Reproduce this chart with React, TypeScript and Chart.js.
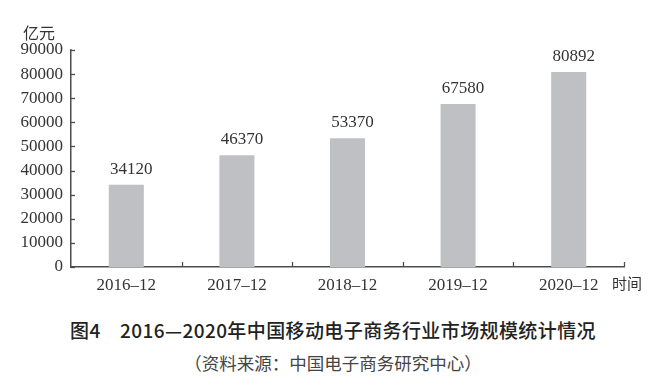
import React, { useEffect, useRef } from "react";
import { Chart, registerables } from "chart.js";

Chart.register(...registerables);

const categories: string[] = ["2016–12", "2017–12", "2018–12", "2019–12", "2020–12"];
const values: number[] = [34120, 46370, 53370, 67580, 80892];
const yMin = 0;
const yMax = 90000;
const yStep = 10000;

const titleText = "图4　2016—2020年中国移动电子商务行业市场规模统计情况";
const sourceText = "（资料来源：中国电子商务研究中心）";
const yUnit = "亿元";
const xUnit = "时间";

const serif = "'Liberation Serif', 'DejaVu Serif', serif";
const cjk = "'Noto Sans CJK SC', 'Noto Sans', sans-serif";
const textColor = "#333333";
const axisColor = "#4d4d4d";
const barColor = "#bfc0c3";

const tickMarksPlugin = {
  id: "tickMarks",
  afterDraw(chart: any) {
    const { ctx } = chart;
    const xs = chart.scales.x;
    const ys = chart.scales.y;
    ctx.save();
    ctx.strokeStyle = axisColor;
    ctx.lineWidth = 1.3;
    ys.ticks.forEach((t: any) => {
      const py = Math.round(ys.getPixelForValue(t.value)) + 0.5;
      ctx.beginPath();
      ctx.moveTo(xs.left, py);
      ctx.lineTo(xs.left + 4, py);
      ctx.stroke();
    });
    const n = categories.length;
    for (let i = 1; i <= n; i++) {
      const px = Math.round(xs.left + ((xs.right - xs.left) * i) / n) + 0.5;
      ctx.beginPath();
      ctx.moveTo(px, ys.bottom);
      ctx.lineTo(px, ys.bottom - 5);
      ctx.stroke();
    }
    ctx.restore();
  },
};

const valueLabelsPlugin = {
  id: "valueLabels",
  afterDatasetsDraw(chart: any) {
    const { ctx } = chart;
    const meta = chart.getDatasetMeta(0);
    ctx.save();
    ctx.fillStyle = textColor;
    ctx.font = `17px ${serif}`;
    ctx.textAlign = "center";
    ctx.textBaseline = "alphabetic";
    meta.data.forEach((bar: any, i: number) => {
      ctx.fillText(String(values[i]), bar.x + 5, bar.y - 11);
    });
    ctx.restore();
  },
};

export default function App() {
  const canvasRef = useRef<HTMLCanvasElement | null>(null);

  useEffect(() => {
    if (!canvasRef.current) return;
    const chart = new Chart(canvasRef.current, {
      type: "bar",
      data: {
        labels: categories,
        datasets: [
          {
            data: values,
            backgroundColor: barColor,
            borderWidth: 0,
            categoryPercentage: 1,
            barPercentage: 0.317,
          },
        ],
      },
      options: {
        animation: false,
        responsive: false,
        devicePixelRatio: 1,
        layout: { padding: { top: 50, right: 37, bottom: 0, left: 0 } },
        plugins: {
          legend: { display: false },
          tooltip: { enabled: false },
          title: { display: false },
        },
        scales: {
          x: {
            grid: { display: false, drawTicks: false },
            border: { display: true, color: axisColor, width: 1.5 },
            ticks: {
              color: textColor,
              font: { family: serif, size: 17 },
              padding: 8,
              maxRotation: 0,
              autoSkip: false,
            },
            afterFit(scale: any) {
              scale.height = 33;
            },
          },
          y: {
            min: yMin,
            max: yMax,
            grid: { display: false, drawTicks: false },
            border: { display: true, color: axisColor, width: 1.5 },
            ticks: {
              stepSize: yStep,
              color: textColor,
              font: { family: serif, size: 17 },
              padding: 8,
              callback: (v: any) => String(v),
            },
            afterFit(scale: any) {
              scale.width = 71;
            },
          },
        },
      },
      plugins: [tickMarksPlugin, valueLabelsPlugin],
    });
    return () => chart.destroy();
  }, []);

  return (
    <div
      style={{
        position: "fixed",
        left: 0,
        top: 0,
        width: 661,
        height: 387,
        background: "#ffffff",
        overflow: "hidden",
      }}
    >
      <canvas
        ref={canvasRef}
        width={661}
        height={300}
        style={{ position: "absolute", left: 0, top: 0, width: 661, height: 300 }}
      />
      <div
        style={{
          position: "absolute",
          left: 23,
          top: 22,
          fontFamily: cjk,
          fontSize: 16,
          lineHeight: "20px",
          color: textColor,
          whiteSpace: "nowrap",
        }}
      >
        {yUnit}
      </div>
      <div
        style={{
          position: "absolute",
          left: 612,
          top: 274,
          fontFamily: cjk,
          fontSize: 15,
          lineHeight: "18px",
          color: textColor,
          whiteSpace: "nowrap",
        }}
      >
        {xUnit}
      </div>
      <div
        style={{
          position: "absolute",
          left: 0,
          width: 666,
          top: 319,
          textAlign: "center",
          fontFamily: cjk,
          fontWeight: 500,
          fontSize: 19,
          letterSpacing: 0.4,
          lineHeight: "22px",
          color: "#222222",
          whiteSpace: "nowrap",
        }}
      >
        {titleText}
      </div>
      <div
        style={{
          position: "absolute",
          left: 0,
          width: 666,
          top: 353,
          textAlign: "center",
          fontFamily: cjk,
          fontSize: 17.5,
          lineHeight: "20px",
          color: "#444444",
          whiteSpace: "nowrap",
        }}
      >
        {sourceText}
      </div>
    </div>
  );
}
